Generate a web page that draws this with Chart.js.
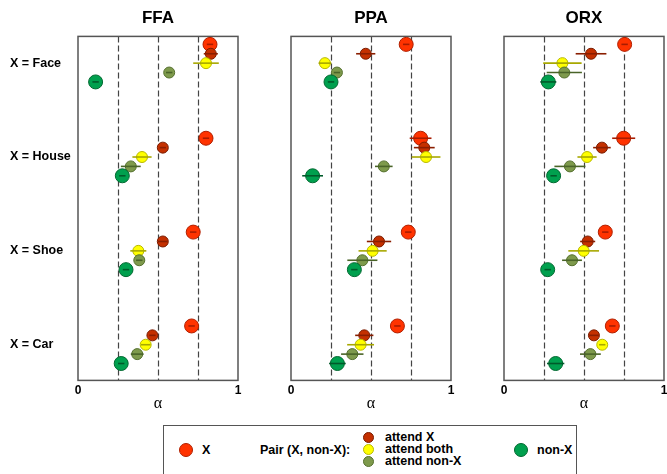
<!DOCTYPE html>
<html>
<head>
<meta charset="utf-8">
<script src="https://cdn.jsdelivr.net/npm/chart.js@4.4.0/dist/chart.umd.min.js"></script>
<style>
  body { margin: 0; background: #fff; width: 667px; height: 474px; overflow: hidden; position: relative;
         font-family: "Liberation Sans", Arial, sans-serif; }
  .panel { position: absolute; top: 0; height: 413px; }
  #legend { position: absolute; left: 163px; top: 425px; width: 414px; height: 60px;
            border: 1.5px solid #555; box-sizing: border-box; }
  .dot { position: absolute; border-radius: 50%; box-sizing: border-box; }
  .lab { position: absolute; font-weight: bold; font-size: 12.5px; line-height: 14px; color: #000; white-space: nowrap; }
</style>
</head>
<body>
<div class="panel" style="left:0;width:250px"><canvas id="ffa"></canvas></div>
<div class="panel" style="left:271px;width:200px"><canvas id="ppa"></canvas></div>
<div class="panel" style="left:484px;width:200px"><canvas id="orx"></canvas></div>

<div id="legend">
  <div class="dot" style="left:15px;top:17px;width:14px;height:14px;background:#ff3300;border:1px solid #b02000"></div>
  <div class="lab" style="left:38px;top:17px">X</div>
  <div class="lab" style="left:96px;top:17px">Pair (X, non-X):</div>
  <div class="dot" style="left:199px;top:6px;width:11px;height:11px;background:#c43000;border:1px solid #7a1c00"></div>
  <div class="dot" style="left:199px;top:18px;width:11px;height:11px;background:#ffff00;border:1px solid #b8b800"></div>
  <div class="dot" style="left:199px;top:30px;width:11px;height:11px;background:#7e9a4c;border:1px solid #55702e"></div>
  <div class="lab" style="left:221px;top:4px">attend X</div>
  <div class="lab" style="left:221px;top:16px">attend both</div>
  <div class="lab" style="left:221px;top:28px">attend non-X</div>
  <div class="dot" style="left:350px;top:17px;width:14px;height:14px;background:#00a04e;border:1px solid #006830"></div>
  <div class="lab" style="left:373px;top:17px">non-X</div>
</div>

<script>
const categories = ['Face', 'House', 'Shoe', 'Car'];
const tickLabels = ['X = Face', 'X = House', 'X = Shoe', 'X = Car'];
const conditions = ['X', 'attend X', 'attend both', 'attend non-X', 'non-X'];
const guideLines = [0.25, 0.5, 0.75];

// FFA: alpha per category (Face, House, Shoe, Car) and half-width of error bar
const ffaX          = [0.825, 0.800, 0.720, 0.710];
const ffaXErr       = [0.020, 0.020, 0.020, 0.020];
const ffaAttX       = [0.830, 0.530, 0.530, 0.465];
const ffaAttXErr    = [0.044, 0.020, 0.030, 0.020];
const ffaBoth       = [0.800, 0.400, 0.377, 0.423];
const ffaBothErr    = [0.080, 0.060, 0.050, 0.030];
const ffaAttNonX    = [0.570, 0.330, 0.383, 0.370];
const ffaAttNonXErr = [0.020, 0.062, 0.020, 0.040];
const ffaNonX       = [0.110, 0.277, 0.300, 0.270];
const ffaNonXErr    = [0.020, 0.020, 0.020, 0.020];

// PPA
const ppaX          = [0.720, 0.810, 0.733, 0.665];
const ppaXErr       = [0.020, 0.068, 0.020, 0.020];
const ppaAttX       = [0.467, 0.833, 0.550, 0.458];
const ppaAttXErr    = [0.060, 0.065, 0.076, 0.057];
const ppaBoth       = [0.212, 0.844, 0.510, 0.435];
const ppaBothErr    = [0.040, 0.090, 0.088, 0.084];
const ppaAttNonX    = [0.287, 0.580, 0.446, 0.383];
const ppaAttNonXErr = [0.020, 0.055, 0.094, 0.070];
const ppaNonX       = [0.250, 0.135, 0.396, 0.290];
const ppaNonXErr    = [0.020, 0.065, 0.020, 0.052];

// ORX
const orxX          = [0.754, 0.748, 0.633, 0.677];
const orxXErr       = [0.020, 0.072, 0.020, 0.020];
const orxAttX       = [0.544, 0.612, 0.523, 0.562];
const orxAttXErr    = [0.096, 0.055, 0.047, 0.030];
const orxBoth       = [0.365, 0.519, 0.498, 0.614];
const orxBothErr    = [0.120, 0.060, 0.096, 0.020];
const orxAttNonX    = [0.377, 0.412, 0.425, 0.540];
const orxAttNonXErr = [0.110, 0.097, 0.062, 0.065];
const orxNonX       = [0.277, 0.310, 0.273, 0.323];
const orxNonXErr    = [0.050, 0.020, 0.020, 0.054];

const styles = [
  { fill: '#ff3300', edge: '#b02000', err: '#a81c00', r: 7 },
  { fill: '#c43000', edge: '#7a1c00', err: '#8a1e00', r: 5.5 },
  { fill: '#ffff00', edge: '#b8b800', err: '#a8a800', r: 5.5 },
  { fill: '#7e9a4c', edge: '#55702e', err: '#4a6428', r: 5.5 },
  { fill: '#00a04e', edge: '#006830', err: '#005a2a', r: 7 }
];

// y position: category block of 10 units, one unit per condition
function points(vals, errs, cond) {
  return vals.map((v, g) => ({ x: v, y: g * 10 + cond, err: errs[g] }));
}

const errorBars = {
  id: 'errorBars',
  afterDatasetDraw(chart, args) {
    const ds = chart.data.datasets[args.index];
    const { ctx, scales: { x, y } } = chart;
    ctx.save();
    ctx.strokeStyle = ds.errColor;
    ctx.lineWidth = 1.6;
    ds.data.forEach(p => {
      const py = y.getPixelForValue(p.y);
      ctx.beginPath();
      ctx.moveTo(x.getPixelForValue(p.x - p.err), py);
      ctx.lineTo(x.getPixelForValue(p.x + p.err), py);
      ctx.stroke();
    });
    ctx.restore();
  }
};

const frame = {
  id: 'frame',
  beforeDatasetsDraw(chart) {
    const { ctx, chartArea: a, scales: { x } } = chart;
    ctx.save();
    ctx.strokeStyle = '#444';
    ctx.lineWidth = 1.2;
    ctx.setLineDash([6, 3]);
    guideLines.forEach(v => {
      const px = Math.round(x.getPixelForValue(v)) + 0.5;
      ctx.beginPath();
      ctx.moveTo(px, a.top);
      ctx.lineTo(px, a.bottom);
      ctx.stroke();
    });
    ctx.setLineDash([]);
    ctx.strokeStyle = '#555';
    ctx.lineWidth = 1.5;
    ctx.strokeRect(a.left, a.top, a.right - a.left, a.bottom - a.top);
    ctx.restore();
  }
};

function makeChart(id, title, series, showY, pad) {
  const datasets = series.map((s, i) => ({
    label: conditions[i],
    data: points(s[0], s[1], i),
    backgroundColor: styles[i].fill,
    borderColor: styles[i].edge,
    borderWidth: 1,
    pointRadius: styles[i].r,
    pointHoverRadius: styles[i].r,
    errColor: styles[i].err,
    order: 5 - i
  }));
  const yAxis = {
    type: 'linear', reverse: true, min: -0.85, max: 35.8,
    display: showY,
    grid: { display: false, drawTicks: false },
    border: { display: false },
    afterBuildTicks: s => { s.ticks = tickLabels.map((t, g) => ({ value: g * 10 + 2 })); },
    ticks: {
      crossAlign: 'far', color: '#000', autoSkip: false,
      font: { family: 'Liberation Sans', size: 12.5, weight: 'bold' },
      callback: (v) => tickLabels[Math.round((v - 2) / 10)]
    }
  };
  if (showY) yAxis.afterFit = s => { s.width = 68; };
  return new Chart(document.getElementById(id), {
    type: 'scatter',
    data: { datasets },
    options: {
      responsive: true,
      maintainAspectRatio: false,
      animation: false,
      layout: { padding: pad },
      plugins: {
        legend: { display: false },
        tooltip: { enabled: false },
        title: {
          display: true, text: title, fullSize: false, color: '#000',
          font: { family: 'Liberation Sans', size: 17, weight: 'bold' },
          padding: { top: 8, bottom: 8 }
        }
      },
      scales: {
        x: {
          type: 'linear', min: 0, max: 1,
          grid: { display: false, drawTicks: false },
          border: { display: false },
          ticks: {
            stepSize: 1, padding: 3, color: '#000',
            font: { family: 'Liberation Sans', size: 12, weight: 'bold' }
          },
          title: {
            display: true, text: 'α', color: '#000', padding: { top: -7, bottom: 0 },
            font: { family: 'Liberation Serif', size: 16 }
          }
        },
        y: yAxis
      }
    },
    plugins: [frame, errorBars]
  });
}

makeChart('ffa', 'FFA', [[ffaX, ffaXErr], [ffaAttX, ffaAttXErr], [ffaBoth, ffaBothErr], [ffaAttNonX, ffaAttNonXErr], [ffaNonX, ffaNonXErr]],
  true, { left: 10, right: 12, top: 0, bottom: 0 });
makeChart('ppa', 'PPA', [[ppaX, ppaXErr], [ppaAttX, ppaAttXErr], [ppaBoth, ppaBothErr], [ppaAttNonX, ppaAttNonXErr], [ppaNonX, ppaNonXErr]],
  false, { left: 20, right: 20, top: 0, bottom: 0 });
makeChart('orx', 'ORX', [[orxX, orxXErr], [orxAttX, orxAttXErr], [orxBoth, orxBothErr], [orxAttNonX, orxAttNonXErr], [orxNonX, orxNonXErr]],
  false, { left: 20, right: 20, top: 0, bottom: 0 });
</script>
</body>
</html>
